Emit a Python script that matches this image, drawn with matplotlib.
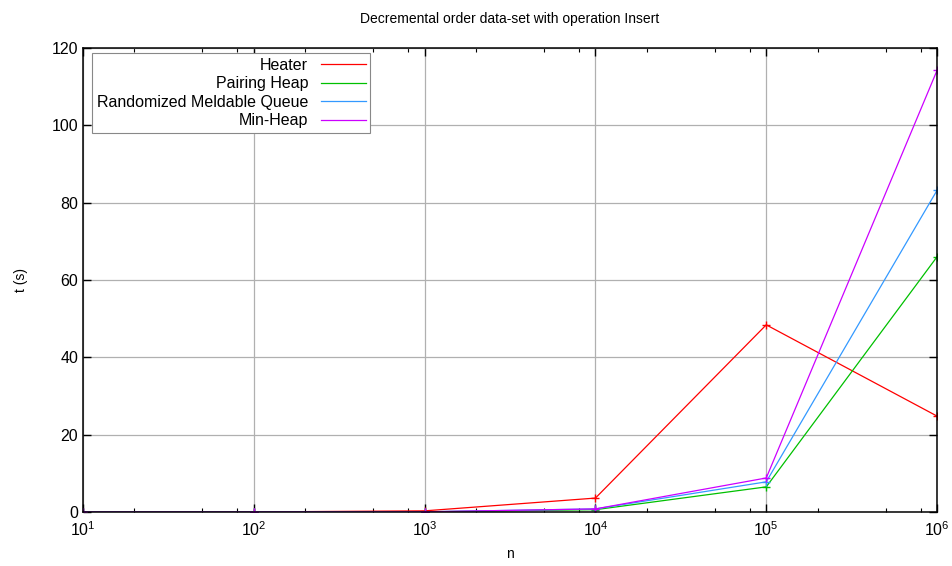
import numpy as np
import matplotlib.pyplot as plt
from matplotlib.ticker import FixedLocator, NullFormatter

plt.rcParams['font.family'] = ['Liberation Sans', 'DejaVu Sans']

n = [10, 100, 1000, 10000, 100000, 1000000]
heater = [0.0, 0.02, 0.3, 3.6, 48.4, 24.8]
pairing = [0.0, 0.0, 0.05, 0.6, 6.5, 66.0]
rmq = [0.0, 0.0, 0.05, 0.8, 7.8, 83.2]
minheap = [0.0, 0.0, 0.05, 0.8, 8.8, 114.2]

labels = ['Heater', 'Pairing Heap', 'Randomized Meldable Queue', 'Min-Heap']
colors = ['#ff0000', '#00c000', '#3399ff', '#cc00ff']

fig = plt.figure(figsize=(9.52, 5.66), dpi=100)
ax = fig.add_axes([0.0872, 0.0954, 0.8971, 0.8198])

for ys, lab, c in zip([heater, pairing, rmq, minheap], labels, colors):
    ax.plot(n, ys, color=c, lw=0.9, marker='+', ms=6, mew=1.0, label=lab)

ax.set_xscale('log')
ax.set_xlim(10, 1e6)
ax.set_ylim(0, 120)
ax.set_yticks(np.arange(0, 121, 20))
minors = [m * 10.0**e for e in range(1, 6) for m in (2, 5, 8)]
ax.xaxis.set_minor_locator(FixedLocator(minors))
ax.xaxis.set_minor_formatter(NullFormatter())
ax.grid(True, which='major', color='#b0b0b0', lw=0.9)
ax.tick_params(which='both', direction='in', top=True, right=True, labelsize=11.5)
ax.tick_params(which='major', length=6, width=1)
ax.tick_params(which='minor', length=3, width=0.8)
ax.tick_params(axis='x', pad=6)
for s in ax.spines.values():
    s.set_linewidth(1.1)

ax.set_xlabel('n', fontsize=10, labelpad=6)
ax.set_ylabel('t (s)', fontsize=10, labelpad=17)
ax.set_title('Decremental order data-set with operation Insert', fontsize=10, pad=18)

leg = ax.legend(loc='upper left', markerfirst=False, fontsize=11.5, frameon=True,
                fancybox=False, edgecolor='#888888', framealpha=1,
                handlelength=2.8, labelspacing=0.22, borderpad=0.3,
                borderaxespad=0, bbox_to_anchor=(0.0105, 0.989))
for h in leg.get_lines():
    h.set_marker('')
leg.get_frame().set_linewidth(0.8)

fig.savefig('out.png', dpi=100)
